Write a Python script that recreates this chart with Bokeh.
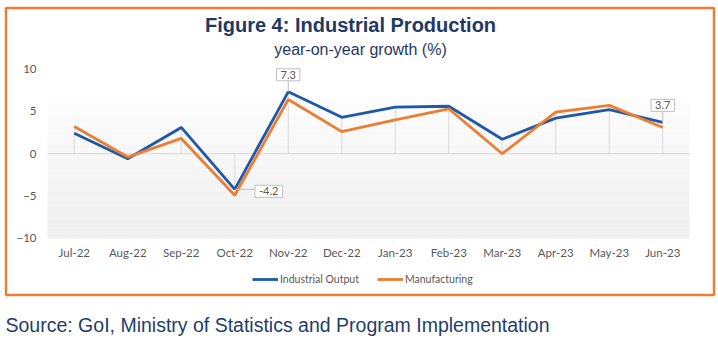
import numpy as np
from bokeh.plotting import figure
from bokeh.models import (ColumnDataSource, Range1d, FixedTicker, Label, BoxAnnotation)
from bokeh.core.properties import value
from bokeh.embed import file_html
from bokeh.resources import INLINE

# ---------------- data ----------------
months = ["Jul-22", "Aug-22", "Sep-22", "Oct-22", "Nov-22", "Dec-22",
          "Jan-23", "Feb-23", "Mar-23", "Apr-23", "May-23", "Jun-23"]
industrial = [2.4, -0.6, 3.1, -4.2, 7.3, 4.3, 5.5, 5.6, 1.7, 4.2, 5.2, 3.7]
manufacturing = [3.2, -0.4, 1.8, -4.9, 6.4, 2.6, 4.0, 5.3, 0.0, 4.9, 5.7, 3.1]
y_ticks = [-10, -5, 0, 5, 10]
callout_top_months = ["Nov-22", "Jun-23"]
callout_top_values = [7.3, 3.7]
callout_side_months = ["Oct-22"]
callout_side_values = [-4.2]

title_text = "Figure 4: Industrial Production"
subtitle_text = "year-on-year growth (%)"
source_text = "Source: GoI, Ministry of Statistics and Program Implementation"

# ---------------- layout / styles ----------------
W, H = 718, 342
PLOT_L, PLOT_R = 47, 689        # plot-area edges (px)
ZERO_PX, PX_PER_UNIT = 153.2, 8.476
BLUE = "#1F58A6"
ORANGE = "#ED7D31"
NAVY = "#1F3864"
GRAY_TXT = "#595959"
GRID = "#D9D9D9"
TICK_FONT = "Lato"

n = len(months)
px_per_cat = (PLOT_R - PLOT_L) / n
xpos = {m: i + 0.5 for i, m in enumerate(months)}
x = [xpos[m] for m in months]

p = figure(width=W, height=H,
           x_range=Range1d(-PLOT_L / px_per_cat, (W - PLOT_L) / px_per_cat),
           y_range=Range1d(-(H - ZERO_PX) / PX_PER_UNIT, ZERO_PX / PX_PER_UNIT),
           output_backend="svg", toolbar_location=None)
p.min_border = 0
p.min_border_left = p.min_border_right = p.min_border_top = p.min_border_bottom = 0
p.title.visible = False
p.background_fill_color = "white"
p.border_fill_color = "white"
p.outline_line_color = None
p.xgrid.visible = False
p.ygrid.visible = False

# plot-area gradient (decoration)
n_bands = 60
edges = np.linspace(6.6, y_ticks[0], n_bands + 1)
shades = np.linspace(253, 238, n_bands).astype(int)
p.quad(left=0, right=n, top=edges[:-1], bottom=edges[1:],
       fill_color=["#%02x%02x%02x" % (s, s, s) for s in shades], line_color=None)

# zero line
p.segment(x0=[0], y0=[0], x1=[n], y1=[0], line_color=GRID, line_width=1)

# drop lines
drop_top = [max(a, b) for a, b in zip(industrial, manufacturing)]
p.segment(x0=x, y0=[0] * n, x1=x, y1=drop_top, line_color=GRID, line_width=1)

# series
p.line(x, industrial, line_color=BLUE, line_width=2.8, legend_label="Industrial Output")
p.line(x, manufacturing, line_color=ORANGE, line_width=2.8, legend_label="Manufacturing")

# callouts
top_x = [xpos[m] for m in callout_top_months]
top_src = ColumnDataSource(dict(x=top_x, y=callout_top_values,
                                y2=[v + 2.0 for v in callout_top_values],
                                t=["%.1f" % v for v in callout_top_values]))
p.segment(x0="x", y0="y", x1="x", y1="y2", source=top_src, line_color="#BFBFBF", line_width=1)
side_x = [xpos[m] for m in callout_side_months]
side_src = ColumnDataSource(dict(x=side_x, x2=[v + 0.6 for v in side_x],
                                 y=callout_side_values,
                                 t=["%.1f" % v for v in callout_side_values]))
p.segment(x0="x", y0="y", x1="x2", y1="y", source=side_src, line_color="#BFBFBF", line_width=1)
box_style = dict(text_font=value(TICK_FONT), text_font_size="11px", text_color=GRAY_TXT,
                 text_align="center", text_baseline="middle",
                 background_fill_color="white",
                 border_line_color="#BFBFBF", border_line_width=1,
                 padding=dict(left=4, right=4, top=2, bottom=2))
p.text(x="x", y="y", text="t", source=top_src, x_offset=0, y_offset=-17, **box_style)
p.text(x="x", y="y", text="t", source=side_src, x_offset=34, y_offset=2, **box_style)

# axes (drawn at fixed locations at the plot-area edges)
for ax in (p.xaxis[0], p.yaxis[0]):
    ax.axis_line_color = None
    ax.major_tick_line_color = None
    ax.minor_tick_line_color = None
    ax.major_tick_in = 0
    ax.major_tick_out = 0
    ax.major_label_text_font = TICK_FONT
    ax.major_label_text_font_size = "11.5px"
    ax.major_label_text_color = GRAY_TXT
p.yaxis.fixed_location = 0
p.yaxis.ticker = FixedTicker(ticks=y_ticks)
p.yaxis.major_label_standoff = 11
p.xaxis.fixed_location = y_ticks[0]
p.xaxis.ticker = FixedTicker(ticks=x)
p.xaxis.major_label_overrides = {xpos[m]: m for m in months}
p.xaxis.major_label_standoff = 8

# legend
lg = p.legend[0]
lg.location = (252, H - 285)
lg.orientation = "horizontal"
lg.glyph_width = 26
lg.glyph_height = 12
lg.label_height = 12
lg.label_standoff = 2
lg.spacing = 18
lg.padding = 0
lg.margin = 0
lg.border_line_color = None
lg.background_fill_alpha = 0
lg.label_text_font = TICK_FONT
lg.label_text_font_size = "10.5px"
lg.label_text_color = GRAY_TXT

# titles & source (screen px, origin at bottom-left)
p.add_layout(Label(x=350, y=H - 24, x_units="screen", y_units="screen", text=title_text,
                   text_font="Liberation Sans", text_font_style="bold",
                   text_font_size="20px", text_color=NAVY,
                   text_align="center", text_baseline="middle"))
p.add_layout(Label(x=360, y=H - 49, x_units="screen", y_units="screen", text=subtitle_text,
                   text_font="Liberation Sans", text_font_size="16px", text_color=NAVY,
                   text_align="center", text_baseline="middle"))
p.add_layout(Label(x=5, y=H - 324, x_units="screen", y_units="screen", text=source_text,
                   text_font="Liberation Sans", text_font_size="19.5px", text_color="#1F3D6E",
                   text_align="left", text_baseline="middle"))

# orange frame
p.add_layout(BoxAnnotation(left=5.5, right=713.5, top=H - 7.5, bottom=H - 294.5,
                           left_units="screen", right_units="screen",
                           top_units="screen", bottom_units="screen",
                           fill_alpha=0, line_color=ORANGE, line_alpha=1.0, line_width=2.5))

open("out.html", "w").write(file_html(p, INLINE))
